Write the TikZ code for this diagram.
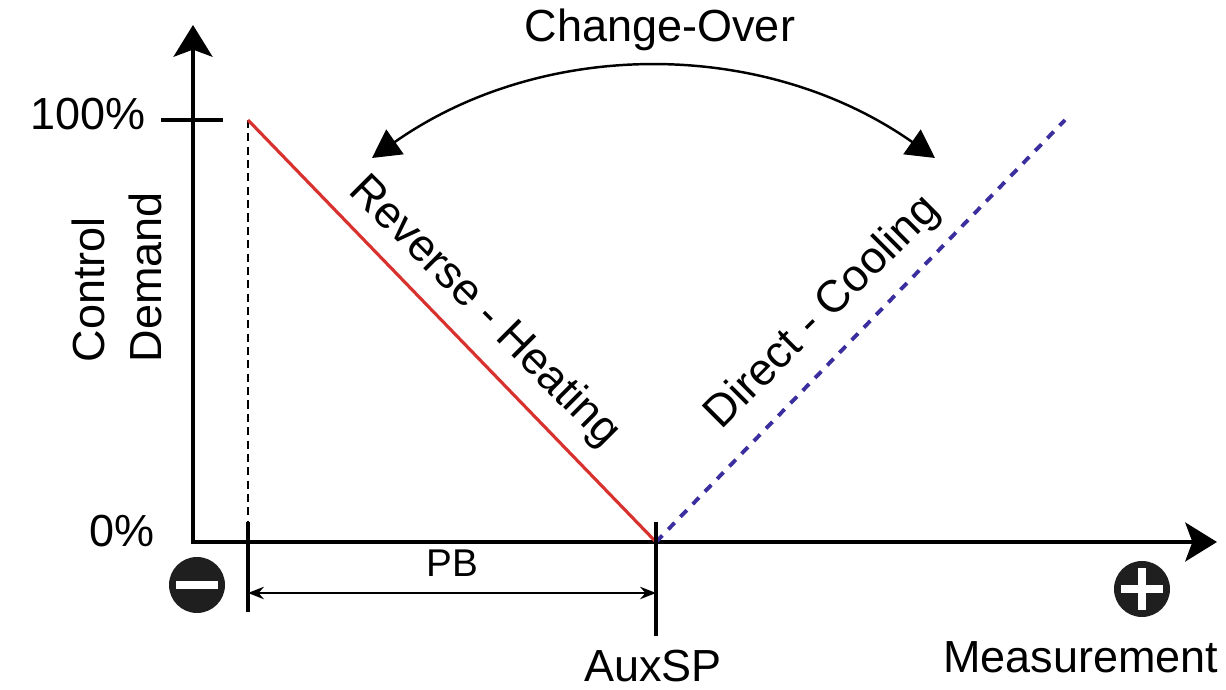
\documentclass[tikz,border=0pt]{standalone}
\usepackage{fontspec}
\setmainfont{Liberation Sans}
\usetikzlibrary{arrows.meta}

\definecolor{heatred}{HTML}{D8322F}
\definecolor{coolblue}{HTML}{3B2E9E}

\begin{document}
\begin{tikzpicture}[
    font=\fontsize{12.8}{16.2}\selectfont,
    axis/.style={line width=1.4pt, {Stealth[length=9pt,width=11pt,inset=2pt]}-{Stealth[length=9pt,width=11pt,inset=2pt]}},
    tickline/.style={line width=1.2pt},
    sign/.style={circle, fill=black!88, minimum size=0.56cm, inner sep=0pt}
  ]
  \useasboundingbox (0,0) rectangle (12.26,6.90);

  % Points of the graph
  \coordinate (O) at (1.93,1.48);
  \coordinate (ytop) at (1.93,6.65);
  \coordinate (xend) at (12.17,1.48);
  \coordinate (full) at (2.48,5.70);
  \coordinate (pbL) at (2.48,1.48);
  \coordinate (aux) at (6.56,1.48);
  \coordinate (cool) at (10.65,5.70);

  % Axes
  \draw[axis] (ytop) -- (O) -- (xend);
  \draw[tickline] (1.61,5.70) -- (2.23,5.70);

  % Characteristics
  \draw[line width=0.6pt, dash pattern=on 2.3pt off 1.5pt] (full) -- (pbL);
  \draw[heatred, line width=0.9pt] (full) -- (aux);
  \draw[coolblue, line width=1.1pt, dash pattern=on 2.6pt off 2.4pt] (aux) -- (cool);

  % Band ticks and PB
  \draw[tickline] (pbL) ++(0,0.2) -- ++(0,-0.9) coordinate (pbLow);
  \draw[tickline] (aux) ++(0,0.2) -- ++(0,-1.14) coordinate (auxLow);
  \coordinate (pbA) at (2.48,0.97);
  \coordinate (pbB) at (6.56,0.97);
  \draw[line width=0.7pt, {Stealth[length=4.5pt,width=3.5pt]}-{Stealth[length=4.5pt,width=3.5pt]}] (pbA) -- (pbB)
    node[midway, above=1pt, font=\fontsize{11}{13}\selectfont] (pb) {PB};

  % Change-over arrow
  \coordinate (coL) at (3.72,5.32);
  \coordinate (coR) at (9.35,5.32);
  \draw[line width=0.7pt, {Triangle[length=8pt,width=8.5pt]}-{Triangle[length=8pt,width=8.5pt]}]
    (coL) .. controls (5.43,6.52) and (7.64,6.52) .. (coR);

  % Labels
  \node[anchor=base] (p100) at (0.88,5.60) {100\%};
  \node[anchor=base] (p0) at (1.22,1.43) {0\%};
  \node[rotate=90, anchor=west, align=left, inner sep=0pt] (ylabel) at (1.165,3.27) {Control\\Demand};
  \node[anchor=base] (chg) at (6.60,6.48) {Change-Over};
  \node[rotate=-45] (heat) at (4.84,3.78) {Reverse - Heating};
  \node[rotate=45] (cooling) at (8.23,3.77) {Direct - Cooling};
  \node[anchor=base] (auxsp) at (6.53,0.08) {AuxSP};
  \node[anchor=base] (meas) at (10.81,0.17) {Measurement};

  % Minus and plus signs
  \node[sign] (minus) at (1.97,1.05) {};
  \fill[white] (minus.center) ++(-0.21,-0.04) rectangle ++(0.42,0.08);
  \node[sign] (plus) at (11.42,1.01) {};
  \fill[white] (plus.center) ++(-0.21,-0.04) rectangle ++(0.42,0.08);
  \fill[white] (plus.center) ++(-0.04,-0.21) rectangle ++(0.08,0.42);
\end{tikzpicture}
\end{document}
